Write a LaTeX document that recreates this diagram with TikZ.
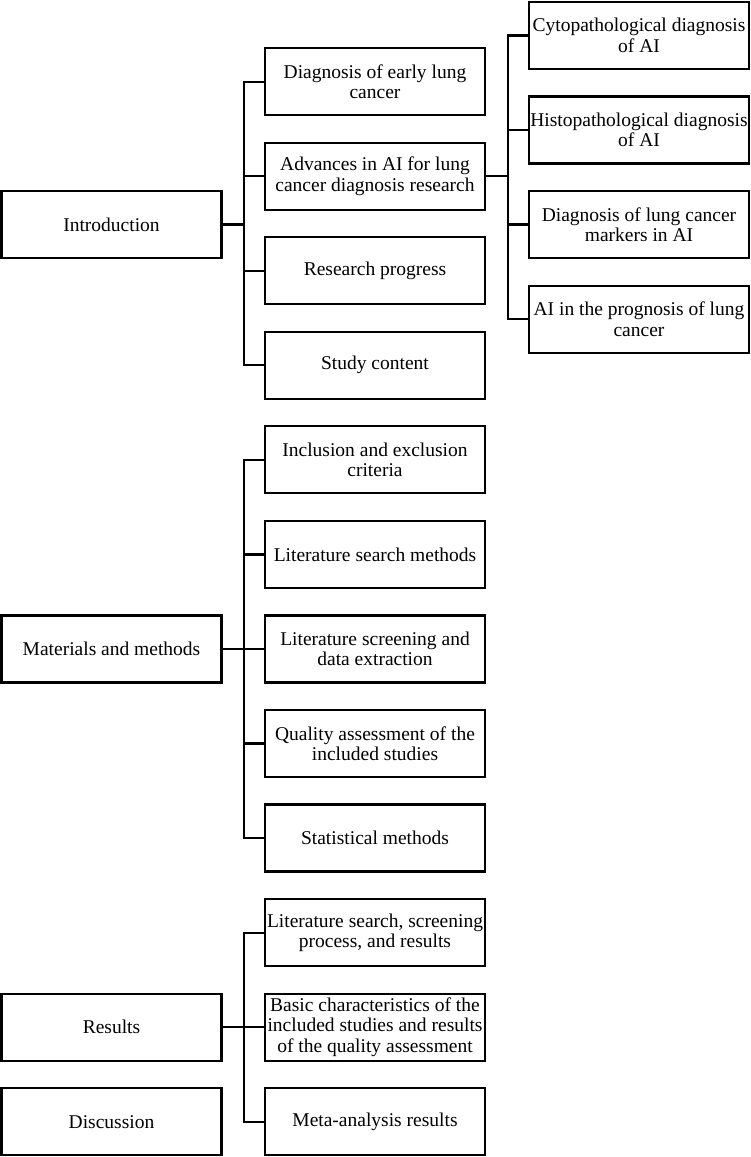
\documentclass[tikz,border=0pt]{standalone}
\usepackage{fontspec}
\setmainfont{Liberation Serif}
\begin{document}
\begin{tikzpicture}[x=1pt,y=-1pt,
  box/.style={draw,line width=2.2pt,minimum width=220pt,minimum height=67pt,inner sep=0pt,align=center,font=\fontsize{19.5}{20.5}\selectfont},
  conn/.style={line width=2.2pt},
  every node/.style={anchor=center}]
\useasboundingbox (0,0) rectangle (750,1157);
% left
\node[box] (intro) at (111.5,224.5) {Introduction};
\node[box] (mat) at (111.5,648.9) {Materials and methods};
\node[box] (res) at (111.5,1027.1) {Results};
\node[box] (disc) at (111.5,1121.7) {Discussion};
% middle
\node[box] (m1) at (375,81.6) {Diagnosis of early lung\\cancer};
\node[box] (m2) at (375,176.2) {Advances in AI for lung\\cancer diagnosis research};
\node[box] (m3) at (375,270.7) {Research progress};
\node[box] (m4) at (375,365.3) {Study content};
\node[box] (m5) at (375,459.8) {Inclusion and exclusion\\criteria};
\node[box] (m6) at (375,554.4) {Literature search methods};
\node[box] (m7) at (375,648.9) {Literature screening and\\data extraction};
\node[box] (m8) at (375,743.5) {Quality assessment of the\\included studies};
\node[box] (m9) at (375,838.0) {Statistical methods};
\node[box] (m10) at (375,932.6) {Literature search, screening\\process, and results};
\node[box] (m11) at (375,1027.1) {Basic characteristics of the\\included studies and results\\of the quality assessment};
\node[box] (m12) at (375,1121.7) {Meta-analysis results};
% right
\node[box] (r1) at (639,35.4) {Cytopathological diagnosis\\of AI};
\node[box] (r2) at (639,130.0) {Histopathological diagnosis\\of AI};
\node[box] (r3) at (639,224.5) {Diagnosis of lung cancer\\markers in AI};
\node[box] (r4) at (639,319.1) {AI in the prognosis of lung\\cancer};
% connectors
\foreach \c in {m1,m2,m3,m4} \draw[conn] (intro.east) -- ++(21.5,0) |- (\c.west);
\foreach \c in {m5,m6,m7,m8,m9} \draw[conn] (mat.east) -- ++(21.5,0) |- (\c.west);
\foreach \c in {m10,m11,m12} \draw[conn] (res.east) -- ++(21.5,0) |- (\c.west);
\foreach \c in {r1,r2,r3,r4} \draw[conn] (m2.east) -- ++(21.5,0) |- (\c.west);
\end{tikzpicture}
\end{document}
